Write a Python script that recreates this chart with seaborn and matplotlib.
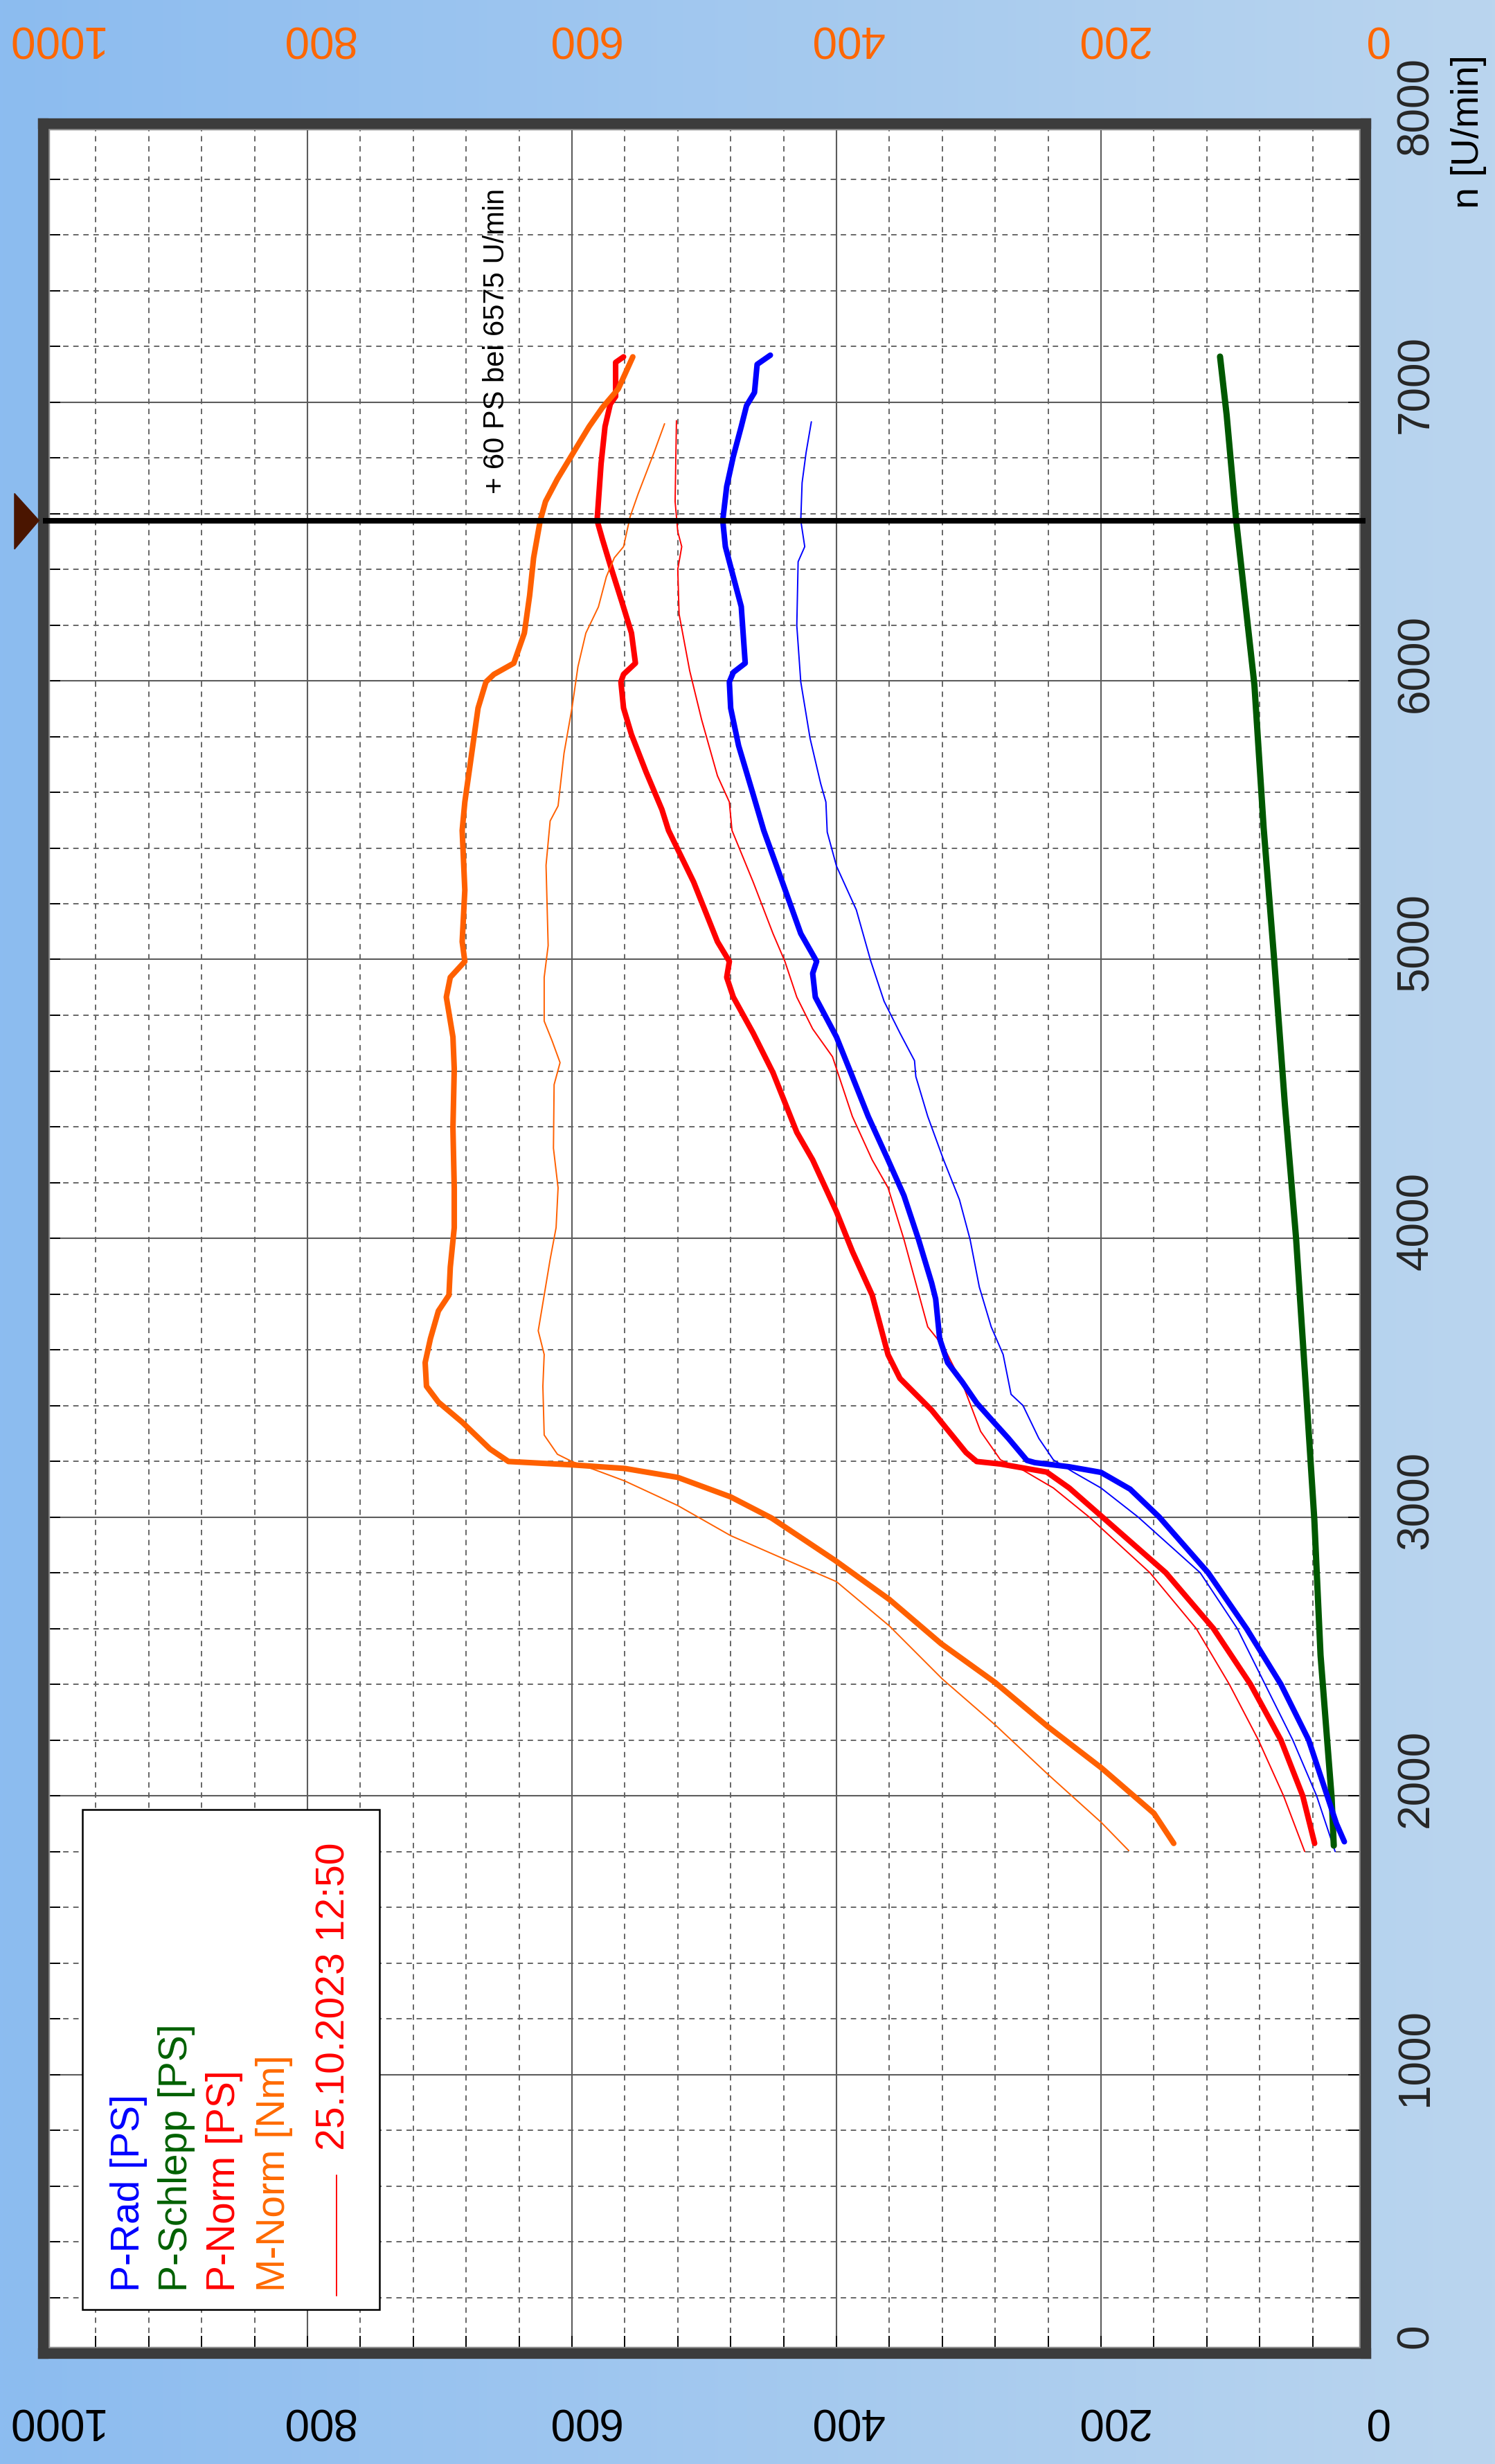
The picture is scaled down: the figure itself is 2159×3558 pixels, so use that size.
import numpy as np
import matplotlib
matplotlib.use('Agg')
import matplotlib.pyplot as plt
import seaborn as sns
from matplotlib.patches import Rectangle, Polygon
from matplotlib.ticker import MultipleLocator
from matplotlib.transforms import ScaledTranslation

sns.set_theme(style='white')
plt.rcParams['font.family'] = ['Liberation Sans', 'DejaVu Sans']

# P-Rad [PS] (thick blue), current run
rad_rpm = [1835, 1900, 2000, 2200, 2400, 2600, 2800, 3000, 3100, 3160, 3180, 3195, 3203, 3282,
           3345, 3409, 3485, 3554, 3640, 3782, 3839, 3996, 4153, 4281, 4437, 4580, 4722, 4865,
           4950, 4993, 5093, 5292, 5463, 5592, 5767, 5902, 5996, 6030, 6063, 6266, 6373, 6481,
           6575, 6697, 6805, 6912, 6987, 7034, 7135, 7168]
rad_ps = [16, 22, 29, 43, 64, 90, 119, 156, 178, 200, 224, 250, 256, 270,
          282, 294, 305, 316, 322, 325, 328, 338, 349, 361, 376, 388, 400, 416,
          418, 415, 427, 442, 455, 463, 474, 480, 481, 478, 469, 472, 478, 484,
          486, 483, 478, 472, 468, 462, 460, 450]

# P-Norm [PS] (thick red)
norm_rpm = [1829, 2000, 2200, 2400, 2600, 2800, 3000, 3104, 3161, 3190, 3199, 3231, 3383, 3497,
            3582, 3796, 3953, 4095, 4281, 4380, 4594, 4736, 4865, 4936, 4993, 5064, 5278, 5463,
            5538, 5673, 5807, 5902, 5996, 6023, 6063, 6171, 6279, 6414, 6508, 6575, 6643, 6778,
            6912, 6993, 7020, 7142, 7162]
norm_ps = [38.5, 47.5, 64, 87, 115, 151, 199, 224, 241, 276, 294, 302, 328, 352,
           361, 373, 388, 400, 418, 430, 448, 463, 478, 483, 481, 490, 508, 527,
           532, 544, 555, 561, 563, 561, 552, 555, 562, 571, 577, 581, 580, 578,
           575, 571, 567, 567, 561]

# P-Schlepp [PS] (green)
drag_rpm = [1821, 1992, 2504, 2991, 3493, 4000, 4482, 4996, 5471, 5985, 6575, 6954, 7163]
drag_ps = [24, 25.6, 34, 38.7, 45.5, 52.5, 61, 69, 77, 84, 97.8, 105, 110]

# M-Norm [Nm] (thick orange)
torque_rpm = [1829, 1937, 2101, 2247, 2406, 2546, 2704, 2844, 2996, 3072, 3142, 3174, 3187, 3199,
              3244, 3340, 3412, 3469, 3554, 3640, 3739, 3796, 3896, 4038, 4181, 4395, 4608, 4722,
              4865, 4936, 4993, 5064, 5249, 5463, 5565, 5699, 5902, 5996, 6023, 6063, 6171, 6306,
              6441, 6575, 6643, 6724, 6818, 6912, 6980, 7047, 7162]
torque_nm = [145, 160, 200, 240, 280, 321, 360, 401, 449, 480, 520, 560, 600, 648,
             662, 683, 701, 710, 711, 707, 701, 693, 692, 689, 689, 690, 689, 690,
             695, 692, 681, 683, 681, 683, 681, 677, 671, 665, 659, 644, 636, 632,
             629, 624, 620, 611, 599, 587, 577, 565, 554]

# comparison run 25.10.2023 12:50 (thin lines)
old_rad_rpm = [1800, 2000, 2200, 2400, 2600, 2800, 3000, 3104, 3161, 3205, 3282, 3400, 3440, 3583,
               3682, 3825, 3996, 4138, 4281, 4437, 4580, 4637, 4736, 4850, 4993, 5178, 5335, 5457,
               5565, 5632, 5794, 5996, 6198, 6427, 6481, 6575, 6710, 6818, 6929]
old_rad_ps = [23, 37, 55, 76, 97, 125, 172, 200, 221, 236, 247, 259, 268, 274,
              283, 292, 299, 307, 319, 331, 340, 341, 352, 364, 374, 385, 400, 407,
              408, 412, 420, 427, 430, 429, 424, 427, 426, 423, 419]

old_norm_rpm = [1800, 2000, 2200, 2400, 2600, 2800, 3000, 3104, 3168, 3205, 3307, 3469, 3611, 3682,
                3839, 3996, 4181, 4281, 4437, 4608, 4651, 4751, 4865, 4993, 5093, 5278, 5463, 5565,
                5659, 5861, 6036, 6239, 6400, 6481, 6535, 6643, 6933]
old_norm_ps = [46, 62, 81, 103, 128, 163, 209, 236, 259, 276, 291, 304, 319, 331,
               340, 349, 361, 373, 388, 400, 403, 418, 430, 439, 448, 463, 479, 481,
               490, 502, 511, 519, 520, 517, 520, 522, 521]

old_torque_rpm = [1803, 1905, 2076, 2254, 2419, 2609, 2768, 2850, 2933, 3041, 3129, 3168, 3199, 3225,
                  3294, 3469, 3583, 3668, 3753, 3924, 4038, 4181, 4323, 4551, 4630, 4708, 4779, 4936,
                  5050, 5338, 5497, 5551, 5740, 5902, 6050, 6171, 6265, 6373, 6441, 6481, 6589, 6670,
                  6818, 6922]
old_torque_nm = [179, 200, 240, 280, 320, 360, 400, 440, 480, 520, 560, 582, 600, 611,
                 621, 622, 621, 625.5, 622.5, 616.5, 612, 610.5, 614, 613.5, 609, 615, 621, 621,
                 618, 619.6, 616.5, 610.5, 606, 600, 595.5, 589.5, 580, 574, 568, 561, 556, 550,
                 538, 530]

ps_ticks = [0, 200, 400, 600, 800, 1000]
rpm_ticks = [0, 1000, 2000, 3000, 4000, 5000, 6000, 7000, 8000]

BLUE = '#0000ff'
RED = '#ff0000'
GREEN = '#005800'
ORANGE = '#ff6000'

W, H = 2159, 3558
fig = plt.figure(figsize=(W / 100, H / 100), dpi=100)

# light blue gradient background
bg = fig.add_axes([0, 0, 1, 1], zorder=-10)
c0 = np.array([140, 188, 240]) / 255
c1 = np.array([186, 213, 238]) / 255
g = np.linspace(0, 1, 512)[None, :, None]
bg.imshow(c0 * (1 - g) + c1 * g, aspect='auto', extent=[0, 1, 0, 1])
bg.set_axis_off()

ax = fig.add_axes([62 / W, 160 / H, 1910 / W, 3220 / H])
ax.set_facecolor('white')

thick = 5.8
thin = 1.4
sns.lineplot(x=old_rad_ps, y=old_rad_rpm, ax=ax, sort=False, estimator=None, color=BLUE, linewidth=thin, legend=False)
sns.lineplot(x=old_norm_ps, y=old_norm_rpm, ax=ax, sort=False, estimator=None, color=RED, linewidth=thin, legend=False)
sns.lineplot(x=drag_ps, y=drag_rpm, ax=ax, sort=False, estimator=None, color=GREEN, linewidth=6.5, legend=False)
sns.lineplot(x=norm_ps, y=norm_rpm, ax=ax, sort=False, estimator=None, color=RED, linewidth=thick, legend=False)
sns.lineplot(x=rad_ps, y=rad_rpm, ax=ax, sort=False, estimator=None, color=BLUE, linewidth=thick, legend=False)

ax.set_xlim(1000, 0)
ax.set_ylim(0, 8000)
ax.set_xlabel('')
ax.set_ylabel('')
ax.set_xticks(ps_ticks)
ax.set_xticklabels([str(v) for v in ps_ticks])
ax.set_yticks(rpm_ticks)
ax.set_yticklabels([str(v) for v in rpm_ticks])
ax.xaxis.set_minor_locator(MultipleLocator(40))
ax.yaxis.set_minor_locator(MultipleLocator(200))
ax.set_axisbelow(True)
ax.grid(which='major', color='#5c5c5c', linewidth=1.5, linestyle='-')
ax.grid(which='minor', color='#666666', linewidth=1.4, linestyle=(0, (4, 3.5)))
ax.tick_params(which='both', direction='in', length=18, width=1.4, color='black',
               top=True, bottom=True, left=True, right=True)
ax.tick_params(axis='x', labelsize=46, labelrotation=180, pad=48, labelcolor='black')
ax.tick_params(axis='y', labelleft=False, labelright=True, labelsize=46, labelrotation=90, pad=31)
shift_x = ScaledTranslation(0.15, 0, fig.dpi_scale_trans)
shift_y = ScaledTranslation(0, 0.25, fig.dpi_scale_trans)
for lab in ax.get_xticklabels():
    lab.set_transform(lab.get_transform() + shift_x)
for lab in ax.get_yticklabels():
    lab.set_va('center')
    lab.set_transform(lab.get_transform() + shift_y)
for sp in ax.spines.values():
    sp.set_linewidth(11)
    sp.set_color('#3c3c3c')
# lighter inner edge of the frame
ax.add_patch(Rectangle((0.004, 0.0025), 0.992, 0.995, transform=ax.transAxes, fill=False,
                       edgecolor='#8c8c8c', linewidth=2.5, zorder=2.5))

# torque axis on top (Nm)
ax2 = ax.twiny()
sns.lineplot(x=old_torque_nm, y=old_torque_rpm, ax=ax2, sort=False, estimator=None, color=ORANGE, linewidth=thin, legend=False)
sns.lineplot(x=torque_nm, y=torque_rpm, ax=ax2, sort=False, estimator=None, color=ORANGE, linewidth=thick, legend=False)
ax2.set_xlim(1000, 0)
ax2.set_ylim(0, 8000)
ax2.set_xlabel('')
ax2.set_ylabel('')
ax2.set_xticks(ps_ticks)
ax2.set_xticklabels([str(v) for v in ps_ticks])
ax2.grid(False)
ax2.tick_params(axis='x', top=True, bottom=False, labeltop=True, labelbottom=False, length=0,
                labelsize=46, labelrotation=180, pad=67, labelcolor='#ff6600')
for lab in ax2.get_xticklabels():
    lab.set_transform(lab.get_transform() + shift_x)
for sp in ax2.spines.values():
    sp.set_visible(False)

# marker at 6575 U/min
ax2.axhline(6575, color='black', linewidth=5.8, zorder=5)
ax2.add_patch(Polygon([(1021.5, 6672), (1021.5, 6472), (1003, 6575)], closed=True,
                      color='#4a1500', clip_on=False, zorder=6))
ax2.text(657, 6671, '+ 60 PS bei 6575 U/min', rotation=90, ha='center', va='bottom',
         fontsize=30, color='black', zorder=6)

# legend box
ax2.add_patch(Rectangle((745.7, 157), 970 - 745.7, 1950 - 157, facecolor='white',
                        edgecolor='black', linewidth=1.8, zorder=7))
legend_items = [('P-Rad [PS]', BLUE, 935), ('P-Schlepp [PS]', '#006000', 899),
                ('P-Norm [PS]', RED, 863), ('M-Norm [Nm]', '#ff6a00', 825)]
for txt, col, px in legend_items:
    ax2.text(px, 220, txt, rotation=90, ha='center', va='bottom', fontsize=41, color=col, zorder=8)
ax2.plot([778, 778], [206, 638], color=RED, linewidth=1.4, zorder=8)
ax2.text(780, 727, '25.10.2023 12:50', rotation=90, ha='center', va='bottom', fontsize=41,
         color=RED, zorder=8)

fig.text(2121 / W, 1 - 301 / H, 'n [U/min]', rotation=90, ha='center', va='bottom', fontsize=40,
         color='black')

fig.savefig('out.png', dpi=100)
